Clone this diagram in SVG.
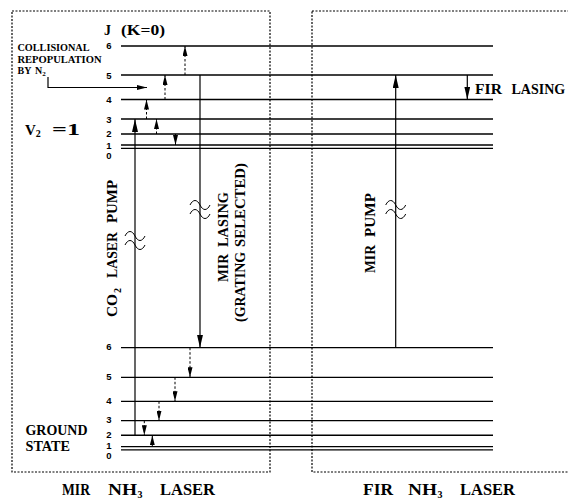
<svg xmlns="http://www.w3.org/2000/svg" width="568" height="499" viewBox="0 0 568 499">
<style>
.box{fill:none;stroke:#000;stroke-width:1.2;stroke-dasharray:2,1.5}
.lvl{stroke:#000;stroke-width:1.3;fill:none}
.ar{stroke:#000;stroke-width:1.2;fill:none}
.da{stroke:#000;stroke-width:1;fill:none;stroke-dasharray:2.5,2}
.sq{stroke:#000;stroke-width:1;fill:none}
.t{font-family:"Liberation Serif","Times New Roman",serif;font-weight:bold;fill:#000}
.n{font-family:"Liberation Sans",Arial,sans-serif;font-weight:bold;font-size:9.5px;fill:#000;text-anchor:middle}
</style>
<defs>
<marker id="big" viewBox="0 0 13 6" refX="13" refY="3" markerWidth="13" markerHeight="6" markerUnits="userSpaceOnUse" orient="auto"><path d="M0,0 L13,3 L0,6 z" fill="#000"/></marker>
<marker id="sm" viewBox="0 0 10 5" refX="10" refY="2.5" markerWidth="10" markerHeight="5" markerUnits="userSpaceOnUse" orient="auto"><path d="M0,0 L10,2.5 L0,5 z" fill="#000"/></marker>
</defs>
<rect width="568" height="499" fill="#fff"/>

<g id="mir-box"><rect class="box" x="12" y="11" width="258" height="461"/></g>
<g id="fir-box"><rect class="box" x="312" y="11" width="270" height="461"/></g>

<g id="upper-levels">
<line class="lvl" x1="121" y1="46" x2="493" y2="46"/>
<line class="lvl" x1="121" y1="75" x2="493" y2="75"/>
<line class="lvl" x1="121" y1="99.5" x2="493" y2="99.5"/>
<line class="lvl" x1="121" y1="119" x2="493" y2="119"/>
<line class="lvl" x1="121" y1="134" x2="493" y2="134" style="stroke-width:1.6"/>
<line class="lvl" x1="121" y1="145" x2="493" y2="145"/>
<line class="lvl" x1="121" y1="148.3" x2="493" y2="148.3"/>
<text class="n" x="109" y="49.4">6</text>
<text class="n" x="109" y="79.2">5</text>
<text class="n" x="109" y="103.2">4</text>
<text class="n" x="109" y="122.7">3</text>
<text class="n" x="109" y="137.4">2</text>
<text class="n" x="109" y="149.2">1</text>
<text class="n" x="109" y="159.2">0</text>
</g>

<g id="lower-levels">
<line class="lvl" x1="121" y1="347.7" x2="493" y2="347.7"/>
<line class="lvl" x1="121" y1="377.3" x2="493" y2="377.3"/>
<line class="lvl" x1="121" y1="401.3" x2="493" y2="401.3"/>
<line class="lvl" x1="121" y1="420.7" x2="493" y2="420.7"/>
<line class="lvl" x1="121" y1="435.3" x2="493" y2="435.3" style="stroke-width:1.6"/>
<line class="lvl" x1="121" y1="446.7" x2="493" y2="446.7"/>
<line class="lvl" x1="121" y1="449.8" x2="493" y2="449.8"/>
<text class="n" x="109" y="350.4">6</text>
<text class="n" x="109" y="380.2">5</text>
<text class="n" x="109" y="404.4">4</text>
<text class="n" x="109" y="423">3</text>
<text class="n" x="109" y="437.5">2</text>
<text class="n" x="109" y="449.4">1</text>
<text class="n" x="109" y="459.4">0</text>
</g>

<g id="labels">
<text class="t" x="104" y="34.5" font-size="14">J</text>
<text class="t" x="121" y="34.5" font-size="14" textLength="44" lengthAdjust="spacingAndGlyphs">(K=0)</text>
<text class="t" x="17.5" y="51" font-size="10" textLength="72" lengthAdjust="spacingAndGlyphs">COLLISIONAL</text>
<text class="t" x="17.5" y="62.5" font-size="10" textLength="84" lengthAdjust="spacingAndGlyphs">REPOPULATION</text>
<text class="t" x="17.5" y="74" font-size="10">BY</text>
<text class="t" x="35" y="74" font-size="10">N<tspan font-size="7" dy="1.5">2</tspan></text>
<text class="t" x="25" y="135" font-size="15">V<tspan font-size="10" dy="2">2</tspan></text>
<text class="t" x="52" y="135" font-size="17" textLength="28" lengthAdjust="spacingAndGlyphs">=1</text>
<text class="t" x="25.5" y="435" font-size="14" textLength="62" lengthAdjust="spacingAndGlyphs">GROUND</text>
<text class="t" x="25.5" y="450.7" font-size="14" textLength="44.5" lengthAdjust="spacingAndGlyphs">STATE</text>
<text class="t" x="475" y="94" font-size="14" textLength="27" lengthAdjust="spacingAndGlyphs">FIR</text>
<text class="t" x="511.5" y="94" font-size="14">LASING</text>
<g transform="translate(117,317) rotate(-90)">
<text class="t" x="0" y="0" font-size="14" textLength="23" lengthAdjust="spacingAndGlyphs">CO</text>
<text class="t" x="24" y="4" font-size="10">2</text>
<text class="t" x="39" y="0" font-size="14" textLength="46" lengthAdjust="spacingAndGlyphs">LASER</text>
<text class="t" x="94" y="0" font-size="14" textLength="43" lengthAdjust="spacingAndGlyphs">PUMP</text>
</g>
<g transform="translate(228,282) rotate(-90)">
<text class="t" x="0" y="0" font-size="14" textLength="28" lengthAdjust="spacingAndGlyphs">MIR</text>
<text class="t" x="35" y="0" font-size="14" textLength="55" lengthAdjust="spacingAndGlyphs">LASING</text>
</g>
<g transform="translate(244.5,322) rotate(-90)">
<text class="t" x="0" y="0" font-size="14" textLength="70" lengthAdjust="spacingAndGlyphs">(GRATING</text>
<text class="t" x="75" y="0" font-size="14" textLength="84" lengthAdjust="spacingAndGlyphs">SELECTED)</text>
</g>
<g transform="translate(375,273) rotate(-90)">
<text class="t" x="0" y="0" font-size="14" textLength="28" lengthAdjust="spacingAndGlyphs">MIR</text>
<text class="t" x="36" y="0" font-size="14" textLength="44" lengthAdjust="spacingAndGlyphs">PUMP</text>
</g>
<text class="t" x="62" y="494.5" font-size="16" textLength="28" lengthAdjust="spacingAndGlyphs">MIR</text>
<text class="t" x="108" y="494.5" font-size="16" textLength="29" lengthAdjust="spacingAndGlyphs">NH</text>
<text class="t" x="137.5" y="497.5" font-size="10">3</text>
<text class="t" x="160" y="494.5" font-size="16" textLength="55" lengthAdjust="spacingAndGlyphs">LASER</text>
<text class="t" x="363" y="494.5" font-size="16" textLength="30" lengthAdjust="spacingAndGlyphs">FIR</text>
<text class="t" x="408" y="494.5" font-size="16" textLength="29" lengthAdjust="spacingAndGlyphs">NH</text>
<text class="t" x="437.5" y="497.5" font-size="10">3</text>
<text class="t" x="460" y="494.5" font-size="16" textLength="55" lengthAdjust="spacingAndGlyphs">LASER</text>
</g>

<g id="connectors">
<path class="ar" d="M135,435.3 V119" marker-end="url(#big)"/>
<path class="ar" d="M200,75 V347.7" marker-end="url(#big)"/>
<path class="ar" d="M395.7,347.7 V75" marker-end="url(#big)"/>
<path class="ar" d="M467.3,75 V99.5" marker-end="url(#big)"/>
<path class="ar" d="M48,77 V87.5 H147" marker-end="url(#sm)"/>
<path class="da" d="M146.5,119 V99.5" marker-end="url(#sm)"/>
<path class="da" d="M156.5,134 V119" marker-end="url(#sm)"/>
<path class="da" d="M165,99.5 V75" marker-end="url(#sm)"/>
<path class="da" d="M185,75 V46" marker-end="url(#sm)"/>
<path class="da" d="M175.5,134 V145" marker-end="url(#sm)"/>
<path class="da" d="M190,347.7 V377.3" marker-end="url(#sm)"/>
<path class="da" d="M175,377.3 V401.3" marker-end="url(#sm)"/>
<path class="da" d="M159,401.3 V420.7" marker-end="url(#sm)"/>
<path class="da" d="M144.3,420.7 V435.3" marker-end="url(#sm)"/>
<path class="da" d="M152.3,446.7 V435.3" marker-end="url(#sm)"/>
<path class="sq" d="M125,236 C128,230 132,230 135,236 C138,242 142,242 145,236 M125,245 C128,239 132,239 135,245 C138,251 142,251 145,245"/>
<path class="sq" d="M190,205 C193,199 197,199 200,205 C203,211 207,211 210,205 M190,214 C193,208 197,208 200,214 C203,220 207,220 210,214"/>
<path class="sq" d="M385.7,205 C388.7,199 392.7,199 395.7,205 C398.7,211 402.7,211 405.7,205 M385.7,214 C388.7,208 392.7,208 395.7,214 C398.7,220 402.7,220 405.7,214"/>
</g>
</svg>
